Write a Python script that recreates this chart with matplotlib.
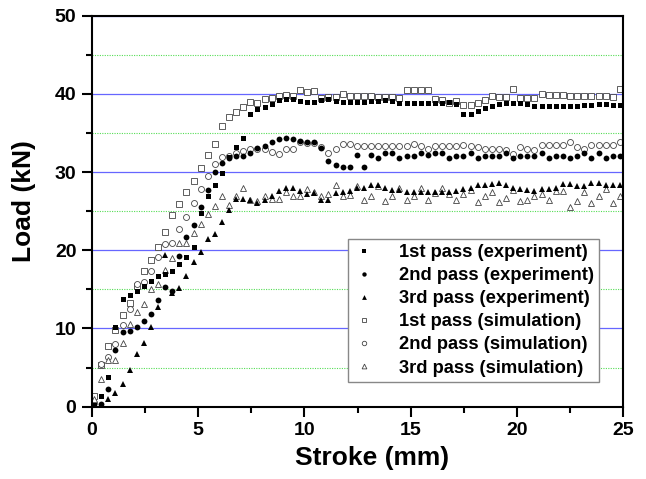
import matplotlib
matplotlib.use("Agg")
import matplotlib.pyplot as plt
import numpy as np
from matplotlib.ticker import MultipleLocator

plt.rcParams['font.family'] = ['Liberation Sans', 'DejaVu Sans']
plt.rcParams['font.weight'] = 'bold'

stroke = [0.11, 0.45, 0.78, 1.11, 1.45, 1.78, 2.11, 2.45, 2.78, 3.12,
          3.45, 3.78, 4.12, 4.45, 4.79, 5.12, 5.45, 5.79, 6.12, 6.46,
          6.79, 7.12, 7.46, 7.79, 8.13, 8.46, 8.79, 9.13, 9.46, 9.80,
          10.13, 10.46, 10.80, 11.13, 11.47, 11.80, 12.14, 12.47, 12.80, 13.14,
          13.47, 13.81, 14.14, 14.47, 14.81, 15.14, 15.48, 15.81, 16.15, 16.48,
          16.81, 17.15, 17.48, 17.82, 18.15, 18.48, 18.82, 19.15, 19.49, 19.82,
          20.16, 20.49, 20.82, 21.16, 21.49, 21.83, 22.16, 22.49, 22.83, 23.16,
          23.50, 23.83, 24.17, 24.50, 24.83]

exp1 = [0.2, 1.4, 3.8, 10.2, 13.8, 14.3, 14.8, 15.4, 16.1, 16.7,
        17.0, 17.3, 18.2, 19.1, 20.4, 24.8, 26.9, 28.3, 29.9, 32.0,
        33.2, 34.4, 37.4, 38.1, 38.3, 38.7, 39.2, 39.3, 39.3, 39.1,
        39.0, 39.0, 39.2, 39.3, 39.1, 39.0, 39.0, 39.0, 39.0, 39.1,
        39.1, 39.2, 39.1, 38.9, 38.8, 38.8, 38.8, 38.8, 38.9, 38.9,
        39.0, 38.7, 37.5, 37.4, 37.8, 38.2, 38.5, 38.7, 38.8, 38.8,
        38.8, 38.7, 38.5, 38.5, 38.5, 38.5, 38.5, 38.5, 38.5, 38.6,
        38.6, 38.7, 38.7, 38.6, 38.6]

exp2 = [0.0, 0.4, 2.2, 7.3, 9.5, 9.7, 10.2, 11.0, 11.9, 13.7,
        15.3, 14.8, 19.3, 21.7, 23.3, 25.5, 27.7, 30.0, 31.2, 31.8,
        32.1, 32.1, 32.4, 33.1, 33.4, 33.9, 34.3, 34.4, 34.2, 34.0,
        33.9, 33.9, 33.1, 31.4, 30.9, 30.6, 30.7, 32.2, 30.7, 32.2,
        31.8, 32.5, 32.5, 31.8, 32.1, 32.1, 32.4, 32.2, 32.4, 32.4,
        31.8, 32.1, 32.1, 32.5, 31.8, 32.1, 32.1, 32.1, 32.5, 31.8,
        32.1, 32.1, 32.1, 32.5, 31.8, 32.1, 32.1, 31.8, 32.1, 32.5,
        31.8, 32.5, 31.8, 32.1, 32.1]

exp3 = [0.0, 0.2, 1.0, 1.8, 2.9, 4.7, 6.8, 8.2, 10.2, 12.7,
        19.4, 14.6, 15.2, 16.7, 18.5, 19.8, 21.4, 22.1, 23.6, 25.2,
        26.6, 26.6, 26.4, 26.1, 26.5, 27.0, 27.6, 28.0, 28.0, 27.6,
        27.2, 27.3, 26.5, 26.5, 27.3, 27.5, 27.6, 28.0, 28.0, 28.3,
        28.4, 28.0, 27.7, 27.7, 27.4, 27.5, 27.5, 27.4, 27.5, 27.5,
        27.4, 27.6, 27.8, 28.0, 28.3, 28.3, 28.5, 28.6, 28.4, 28.0,
        27.8, 27.7, 27.6, 27.8, 27.8, 28.0, 28.5, 28.5, 28.2, 28.2,
        28.6, 28.6, 28.3, 28.3, 28.3]

sim1 = [1.4, 5.3, 7.8, 9.8, 11.7, 13.2, 15.5, 17.3, 18.8, 20.4,
        22.3, 24.5, 25.9, 27.4, 28.9, 30.5, 32.2, 33.6, 35.9, 37.0,
        37.7, 38.3, 39.0, 38.8, 39.3, 39.5, 39.7, 39.9, 39.7, 40.5,
        40.3, 40.4, 39.5, 39.6, 39.6, 40.0, 39.8, 39.7, 39.7, 39.7,
        39.6, 39.6, 39.6, 39.5, 40.5, 40.5, 40.5, 40.5, 39.4, 39.2,
        38.8, 39.1, 38.6, 38.6, 38.9, 39.2, 39.7, 39.6, 39.6, 40.6,
        39.5, 39.5, 39.5, 40.0, 39.9, 39.9, 39.9, 39.8, 39.8, 39.7,
        39.7, 39.7, 39.7, 39.6, 40.6]

sim2 = [0.5, 5.5, 6.3, 8.0, 10.5, 12.5, 15.7, 15.9, 17.3, 19.1,
        20.8, 21.0, 22.7, 24.3, 26.0, 27.8, 29.5, 31.0, 31.9, 32.1,
        32.5, 32.7, 33.0, 32.9, 32.9, 32.6, 32.3, 33.0, 33.0, 33.8,
        33.7, 33.7, 33.2, 32.5, 33.0, 33.6, 33.6, 33.4, 33.3, 33.4,
        33.4, 33.3, 33.3, 33.3, 33.3, 33.6, 33.4, 33.0, 33.3, 33.3,
        33.3, 33.3, 33.5, 33.4, 33.2, 33.0, 33.0, 32.9, 32.8, 32.3,
        33.2, 32.9, 32.8, 33.5, 33.5, 33.5, 33.5, 33.8, 33.2, 32.9,
        33.5, 33.5, 33.5, 33.5, 33.8]

sim3 = [1.0, 3.5, 6.0, 6.0, 8.1, 10.6, 12.1, 13.1, 15.0, 15.7,
        17.5, 19.0, 21.0, 21.0, 22.2, 23.4, 24.6, 25.7, 26.9, 25.8,
        26.9, 28.0, 26.5, 26.3, 27.0, 26.6, 26.6, 27.4, 27.0, 27.0,
        27.9, 27.5, 27.0, 27.2, 28.3, 27.0, 27.1, 28.2, 26.5, 27.0,
        28.2, 26.3, 27.0, 28.0, 26.5, 27.0, 28.0, 26.5, 27.3, 28.0,
        27.2, 26.5, 27.2, 27.7, 26.2, 27.0, 27.5, 26.2, 26.7, 27.7,
        26.3, 26.5, 27.0, 27.2, 26.5, 27.6, 27.6, 25.5, 26.3, 27.4,
        26.1, 27.0, 27.9, 26.0, 27.0]

labels = ['1st pass (experiment)', '2nd pass (experiment)', '3rd pass (experiment)',
          '1st pass (simulation)', '2nd pass (simulation)', '3rd pass (simulation)']

fig = plt.figure(figsize=(6.46, 4.79), dpi=100)
ax = fig.add_axes([0.142, 0.151, 0.823, 0.816])

ax.yaxis.set_major_locator(MultipleLocator(10))
ax.yaxis.set_minor_locator(MultipleLocator(5))
ax.xaxis.set_major_locator(MultipleLocator(5))
ax.xaxis.set_minor_locator(MultipleLocator(2.5))
ax.grid(False)
ax.grid(axis='y', which='major', color='#6666ff', linewidth=0.9, linestyle='-', zorder=0)
ax.grid(axis='y', which='minor', color='#55dd55', linewidth=0.8, linestyle=(0, (1, 1.2)), zorder=0)
ax.set_axisbelow(True)

ax.plot(stroke, exp1, 's', color='black', ms=3.6, mew=0, label=labels[0], zorder=3)
ax.plot(stroke, exp2, 'o', color='black', ms=4.2, mew=0, label=labels[1], zorder=3)
ax.plot(stroke, exp3, '^', color='black', ms=4.6, mew=0, label=labels[2], zorder=3)
ax.plot(stroke, sim1, 's', mfc='white', mec='#444444', ms=3.8, mew=0.6, label=labels[3], zorder=2)
ax.plot(stroke, sim2, 'o', mfc='white', mec='#444444', ms=4.3, mew=0.6, label=labels[4], zorder=2)
ax.plot(stroke, sim3, '^', mfc='white', mec='#444444', ms=4.6, mew=0.6, label=labels[5], zorder=2)

ax.set_xlim(0, 25)
ax.set_ylim(0, 50)

for s in ax.spines.values():
    s.set_linewidth(1.5)
ax.tick_params(axis='both', which='major', direction='out', length=7, width=1.5,
               labelsize=14, pad=4, top=False, right=False)
ax.tick_params(axis='both', which='minor', direction='out', length=4, width=1.5,
               top=False, right=False)
for lab in ax.get_xticklabels() + ax.get_yticklabels():
    lab.set_fontweight('bold')

ax.set_xlabel('Stroke (mm)', fontsize=19, fontweight='bold', va='center')
ax.set_ylabel('Load (kN)', fontsize=19, fontweight='bold', va='center')
ax.xaxis.set_label_coords(0.528, -0.131)
ax.yaxis.set_label_coords(-0.128, 0.527)

leg = ax.legend(loc='lower right', bbox_to_anchor=(0.955, 0.063), fontsize=13.2,
                frameon=True, fancybox=False, edgecolor='#888888', framealpha=1,
                labelspacing=0.33, handlelength=1.2, handletextpad=1.3,
                borderpad=0.3, borderaxespad=0, markerscale=0.75)
leg.get_frame().set_linewidth(1.0)
for t in leg.get_texts():
    t.set_fontweight('bold')

fig.savefig('out.png', dpi=100)
